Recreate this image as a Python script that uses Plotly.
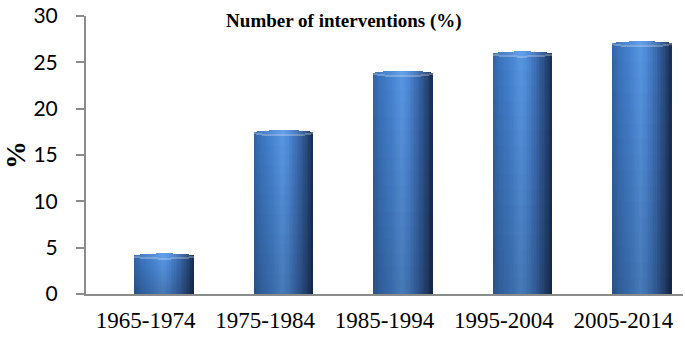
import numpy as np
import plotly.graph_objects as go

# ---------------- data ----------------
categories = ["1965-1974", "1975-1984", "1985-1994", "1995-2004", "2005-2014"]
values = [4.1, 17.4, 23.8, 25.9, 27.0]
y_ticks = [0, 5, 10, 15, 20, 25, 30]
title_text = "Number of interventions (%)"
y_label = "%"

# ---------------- style ----------------
BAR_WIDTH = 0.494      # in category units
BAR_SHIFT = 0.157      # 3D depth offset to the right
N_STRIPS = 36
N_LEVELS = 16
CAP = 0.28             # half-height of top ellipse, in data units
# horizontal shading profile of the cylinder (position across bar, rgb)
stops = [
    (0.00, (48, 98, 164)),
    (0.12, (58, 114, 186)),
    (0.30, (68, 128, 204)),
    (0.48, (86, 147, 222)),
    (0.58, (76, 135, 211)),
    (0.75, (56, 103, 170)),
    (0.90, (37, 70, 119)),
    (1.00, (24, 44, 80)),
]


def shade(u):
    for (u0, c0), (u1, c1) in zip(stops[:-1], stops[1:]):
        if u0 <= u <= u1:
            t = (u - u0) / (u1 - u0)
            return [c0[k] + t * (c1[k] - c0[k]) for k in range(3)]
    return list(stops[-1][1])


def rgb(c, f=1.0, white=0.0):
    out = []
    for v in c:
        v = v * f
        v = v + (255 - v) * white
        out.append(int(max(0, min(255, round(v)))))
    return "rgb(%d,%d,%d)" % tuple(out)


xs, bases, hs, ws, cols = [], [], [], [], []
dw = BAR_WIDTH / N_STRIPS
for i, v in enumerate(values):
    left = i + BAR_SHIFT - BAR_WIDTH / 2
    right = left + BAR_WIDTH
    for j in range(N_STRIPS):
        u = (j + 0.5) / N_STRIPS
        xl = max(left, left + j * dw - dw * 0.15)
        xr = min(right, left + (j + 1) * dw + dw * 0.15)
        xc = (xl + xr) / 2
        wd = xr - xl
        s = np.sqrt(max(0.0, 1 - (2 * u - 1) ** 2))
        front = v - CAP * s
        c = shade(u)
        # body with slight vertical darkening toward the floor
        for k in range(N_LEVELS):
            b = front * k / N_LEVELS
            h = front / N_LEVELS * (1.06 if k < N_LEVELS - 1 else 1.0)
            f = 0.82 + 0.20 * (k + 0.5) / N_LEVELS
            xs.append(xc); bases.append(b); hs.append(h); ws.append(wd)
            cols.append(rgb(c, f))
        # top ellipse surface
        xs.append(xc); bases.append(front); hs.append(2 * CAP * s); ws.append(wd)
        cols.append(rgb(c, 1.05, 0.06))
        # light rim at the front edge of the top
        xs.append(xc); bases.append(front - 0.05); hs.append(0.11); ws.append(wd)
        cols.append(rgb(c, 1.0, 0.28))

fig = go.Figure(
    go.Bar(
        x=xs, y=hs, base=bases, width=ws,
        marker=dict(color=cols, line=dict(width=0)),
        hoverinfo="skip", showlegend=False,
    )
)

axis_col = "#8c8c8c"
fig.update_layout(
    width=685, height=339,
    margin=dict(l=86, r=2, t=14, b=45),
    paper_bgcolor="white", plot_bgcolor="white",
    barmode="overlay",
    bargap=0,
    title=dict(
        text="<b>" + title_text + "</b>",
        x=0.502, xref="container", xanchor="center",
        y=1 - 20 / 339, yref="container", yanchor="middle",
        font=dict(family="Liberation Serif", size=19, color="black"),
    ),
    xaxis=dict(
        range=[-0.5, 4.5],
        tickmode="array", tickvals=list(range(len(categories))), ticktext=categories,
        showline=True, linecolor=axis_col, linewidth=2,
        ticks="", showgrid=False, zeroline=False,
        tickfont=dict(family="Liberation Serif", size=23, color="black"),
        ticklabelstandoff=4,
    ),
    yaxis=dict(
        range=[0, 30],
        tickmode="array", tickvals=y_ticks,
        showline=True, linecolor=axis_col, linewidth=2,
        ticks="outside", ticklen=8, tickwidth=2, tickcolor=axis_col,
        showgrid=False, zeroline=False,
        tickfont=dict(family="Lato", size=21, color="black"),
        ticklabelstandoff=14,
    ),
    annotations=[
        dict(
            text="<b>" + y_label + "</b>", xref="paper", yref="paper",
            x=(15 - 86) / 597, y=0.5, xanchor="center", yanchor="middle",
            textangle=-90, showarrow=False,
            font=dict(family="Liberation Serif", size=28, color="black"),
        )
    ],
)

fig.write_html(
    "out.html",
    config={"displayModeBar": False},
    post_script="document.body.style.margin='0';document.body.style.overflow='hidden';",
)
